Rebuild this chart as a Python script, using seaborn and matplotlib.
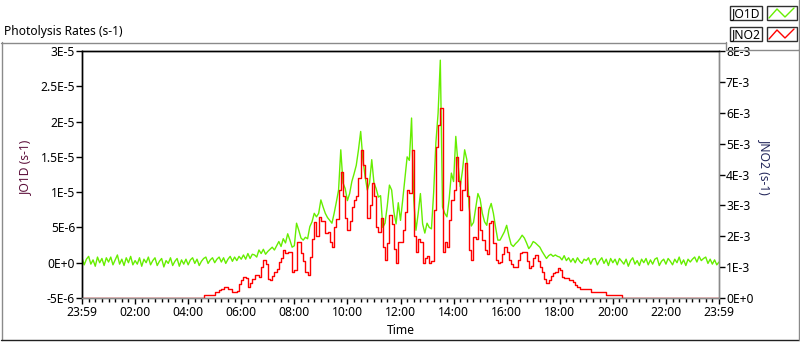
import numpy as np
import pandas as pd
import matplotlib
matplotlib.use("Agg")
import matplotlib.pyplot as plt
import matplotlib.ticker as mticker
from matplotlib.lines import Line2D
from matplotlib.patches import Rectangle
import seaborn as sns

# 5-minute samples over one day (hours since midnight)
hours = np.arange(0, 24 * 12 + 1) / 12.0

# JO1D in units of 1E-6 s-1, one row per hour (12 x 5 min)
jo1d_e6 = [
    0.7, -0.3, 0.5, 0.9, -0.2, 0.4, -0.5, 0.8, 0.0, 0.6, -0.4, 0.7,
    0.1, 0.8, -0.3, 0.4, 1.1, -0.2, 0.5, -0.4, 0.7, 0.0, 0.9, -0.3,
    0.3, -0.2, 0.7, -0.5, 0.5, 0.0, 0.8, -0.3, 0.3, 0.7, -0.4, 0.2,
    0.6, -0.6, 0.3, -0.1, 0.7, -0.4, 0.2, 0.6, -0.5, 0.4, -0.2, 0.5,
    -0.3, 0.4, 0.7, -0.1, 0.5, -0.4, 0.2, 0.6, 0.8, -0.1, 0.4, 0.7,
    0.0, 0.5, 0.8, 0.1, 0.7, -0.1, 0.5, 0.9, 0.2, 0.8, 0.3, 0.9,
    0.5, 1.1, 0.5, 1.3, 0.6, 1.2, 1.1, 0.8, 1.8, 1.3, 1.9, 1.2,
    1.6, 1.9, 2.2, 1.8, 2.4, 3.0, 2.3, 3.4, 2.8, 4.1, 3.2, 2.2,
    2.4, 5.6, 4.6, 3.5, 3.2, 3.6, 3.4, 5.1, 5.8, 7.0, 6.5, 7.0,
    8.9, 7.9, 7.0, 6.4, 6.0, 5.6, 7.0, 8.6, 10.3, 16.0, 11.3, 10.5,
    8.8, 9.8, 11.5, 12.6, 13.8, 16.0, 18.6, 14.6, 12.2, 10.3, 11.3, 14.6,
    11.3, 10.5, 9.3, 9.5, 5.0, 5.6, 8.0, 11.0, 10.3, 7.2, 5.5, 8.5,
    6.0, 8.9, 12.0, 15.0, 14.5, 20.5, 8.9, 4.6, 7.0, 9.8, 5.5, 4.2,
    5.6, 5.0, 4.8, 10.0, 17.0, 21.2, 28.7, 7.9, 7.0, 6.5, 9.0, 12.7,
    11.5, 17.9, 14.0, 10.8, 13.0, 16.0, 14.6, 8.0, 5.2, 5.7, 7.7, 9.8,
    9.0, 7.0, 5.8, 5.3, 7.5, 8.4, 7.0, 5.0, 3.2, 3.2, 3.8, 4.4,
    5.3, 3.8, 2.6, 2.3, 2.7, 3.0, 3.4, 3.9, 3.5, 2.8, 2.0, 2.4,
    3.0, 2.8, 2.5, 2.2, 1.6, 1.1, 0.6, 1.0, 1.2, 0.9, 1.1, 0.9,
    0.8, 0.4, 1.0, 0.3, 0.7, 0.1, 0.6, 0.0, 0.7, 0.2, -0.1, 0.5,
    0.3, 0.7, -0.2, 0.5, 0.6, -0.3, 0.3, 0.7, -0.1, 0.5, -0.4, 0.6,
    0.0, 0.5, -0.3, 0.6, 0.2, -0.2, 0.5, -0.5, 0.3, 0.7, -0.2, 0.3,
    -0.4, 0.5, 0.0, 0.6, -0.3, 0.4, -0.2, 0.5, 0.7, -0.4, 0.2, 0.5,
    -0.2, 0.6, 0.2, -0.3, 0.5, 0.0, 0.8, -0.2, 0.4, -0.4, 0.5, 0.1,
    0.5, 0.8, 0.1, 0.9, 0.3, 0.6, 0.8, -0.1, 0.5, -0.2, 0.4, -0.3,
    0.1,
]

# JNO2 in units of 1E-3 s-1
jno2_e3 = (
    [0.0] * 48
    + [0, 0, 0, 0, 0, 0, 0, 0.1, 0.1, 0.1, 0.1, 0.1,
       0.18, 0.18, 0.26, 0.28, 0.37, 0.37, 0.3, 0.28, 0.2, 0.2, 0.22, 0.45,
       0.58, 0.69, 0.65, 0.37, 0.48, 0.62, 0.75, 0.75, 0.68, 1.0, 1.23, 1.1,
       0.6, 0.58, 0.7, 0.85, 0.95, 1.15, 1.28, 1.55, 1.45, 1.5, 1.5, 0.85,
       0.9, 1.82, 1.8, 1.45, 1.2, 0.85, 0.75, 1.34, 1.9, 2.47, 2.0, 2.63,
       2.5, 2.5, 2.1, 2.15, 1.82, 1.66, 2.3, 2.55, 3.5, 4.09, 3.3, 2.6,
       2.2, 2.5, 2.96, 3.17, 3.3, 3.9, 4.79, 4.3, 3.88, 2.6, 3.0, 3.71,
       3.3, 2.3, 2.15, 2.6, 1.66, 1.23, 1.77, 2.69, 2.4, 1.6, 1.12, 1.82,
       1.8, 2.2, 2.8, 3.5, 3.4, 4.79, 2.0, 1.5, 1.9, 1.8, 1.12, 1.3,
       1.35, 1.12, 1.2, 2.85, 4.9, 5.6, 6.14, 1.5, 1.8, 1.66, 2.53, 3.17,
       3.5, 4.58, 3.8, 2.85, 3.5, 4.36, 3.3, 1.55, 1.23, 1.98, 1.9, 2.96,
       2.2, 1.88, 1.55, 1.44, 2.42, 2.5, 1.77, 1.23, 1.12, 1.15, 1.44, 1.66,
       1.5, 1.23, 1.1, 1.01, 1.01, 1.23, 1.45, 1.5, 1.48, 1.2, 0.96, 1.05,
       1.28, 1.39, 1.2, 1.0, 0.85, 0.6, 0.5, 0.58, 0.72, 0.8, 0.85, 0.96,
       0.9, 0.69, 0.66, 0.66, 0.58, 0.58, 0.52, 0.42, 0.37, 0.29, 0.29, 0.29,
       0.29, 0.29, 0.18, 0.18, 0.18, 0.18, 0.18, 0.18, 0.18, 0.1, 0.1, 0.1,
       0.1, 0.1, 0.1, 0.1, 0, 0, 0, 0, 0, 0, 0, 0]
    + [0.0] * 37
)

left_ticks = ["-5E-6", "0E+0", "5E-6", "1E-5", "1.5E-5", "2E-5", "2.5E-5", "3E-5"]
right_ticks = ["0E+0", "1E-3", "2E-3", "3E-3", "4E-3", "5E-3", "6E-3", "7E-3", "8E-3"]
time_labels = ["23:59", "02:00", "04:00", "06:00", "08:00", "10:00", "12:00",
               "14:00", "16:00", "18:00", "20:00", "22:00", "23:59"]

df = pd.DataFrame({
    "Time": hours,
    "JO1D": np.array(jo1d_e6) * 1e-6,
    "JNO2": np.array(jno2_e3) * 1e-3,
})

sns.set_theme(style="ticks")
plt.rcParams["font.family"] = ["Noto Sans", "DejaVu Sans"]
FS = 8.7
GREEN = "#66ee00"
RED = "#ff0000"
GREY = "#8a8a8a"

W, H = 800, 342
fig = plt.figure(figsize=(W / 100, H / 100), dpi=100)
ax = fig.add_axes([82 / W, 1 - 298 / H, (719 - 82) / W, (298 - 51) / H])
ax2 = ax.twinx()

sns.lineplot(data=df, x="Time", y="JO1D", ax=ax, color=GREEN, lw=1.0)
sns.lineplot(data=df, x="Time", y="JNO2", ax=ax2, color=RED, lw=1.0,
             drawstyle="steps-post")

ax.set_xlim(0, 24)
ax.set_ylim(-5e-6, 3e-5)
ax2.set_ylim(0, 8e-3)

ax.set_yticks(np.arange(-5e-6, 3.01e-5, 5e-6), left_ticks)
ax2.set_yticks(np.arange(0, 8.01e-3, 1e-3), right_ticks)
ax.set_xticks(np.arange(0, 24.01, 2), time_labels)
ax.xaxis.set_minor_locator(mticker.MultipleLocator(0.25))

for a in (ax, ax2):
    a.spines["left"].set_color("black")
    a.spines["top"].set_color("black")
    a.spines["right"].set_color(GREY)
    a.spines["bottom"].set_color(GREY)
    for s in a.spines.values():
        s.set_linewidth(1.0)
    a.set_facecolor("none")

ax.tick_params(axis="y", length=4, width=1, pad=1, labelsize=FS, colors="black")
ax2.tick_params(axis="y", length=4, width=1, pad=1, labelsize=FS, colors="black")
ax.tick_params(axis="x", which="major", length=4, width=1, pad=2, labelsize=FS,
               colors="black")
ax.tick_params(axis="x", which="minor", length=3, width=1, color="black")

ax.set_ylabel("JO1D (s-1)", fontsize=FS, color="#5c0f3a")
ax.yaxis.set_label_coords((32 - 82) / 637, (298 - 167) / 247)
ax2.set_ylabel("JNO2 (s-1)", fontsize=FS, color="#22265a", rotation=270,
               va="center")
ax2.yaxis.set_label_coords((765 - 82) / 637, (298 - 167) / 247)
ax.set_xlabel("Time", fontsize=FS, color="black", va="center")
ax.xaxis.set_label_coords(0.5, (298 - 331) / 247)


def fx(x, y):
    return x / W, 1 - y / H


def seg(x0, y0, x1, y1, color, lw=1.0):
    (a, b), (c, d) = fx(x0, y0), fx(x1, y1)
    fig.add_artist(Line2D([a, c], [b, d], color=color, lw=lw,
                          transform=fig.transFigure))


# outer frame and legend area
seg(1, 42.5, 726, 42.5, GREY)
seg(1.5, 42, 1.5, 340, GREY)
seg(1, 340, 799, 340, "#202020")
seg(798.5, 49, 798.5, 340, GREY)
seg(726, 42, 726, 49.5, GREY)
seg(726, 49.5, 799, 49.5, GREY)
seg(799, 0, 799, 49.5, GREY)

fig.text(4 / W, 1 - 32 / H, "Photolysis Rates (s-1)", fontsize=FS,
         ha="left", va="center", color="black")

for name, color, y0 in (("JO1D", GREEN, 6), ("JNO2", RED, 27)):
    for x0, x1 in ((730, 762), (767, 797)):
        fig.add_artist(Rectangle(fx(x0, y0 + 14), (x1 - x0) / W, 14 / H,
                                 transform=fig.transFigure, fill=False,
                                 edgecolor="#303030", lw=1.0))
    fig.text(746 / W, 1 - (y0 + 7.5) / H, name, fontsize=FS, ha="center",
             va="center", color="black")
    zx = [769, 777, 785, 794]
    zy = [y0 + 12, y0 + 3, y0 + 11, y0 + 2]
    fig.add_artist(Line2D([x / W for x in zx], [1 - y / H for y in zy],
                          color=color, lw=1.0, transform=fig.transFigure))

fig.savefig("out.png", dpi=100, facecolor="white")
